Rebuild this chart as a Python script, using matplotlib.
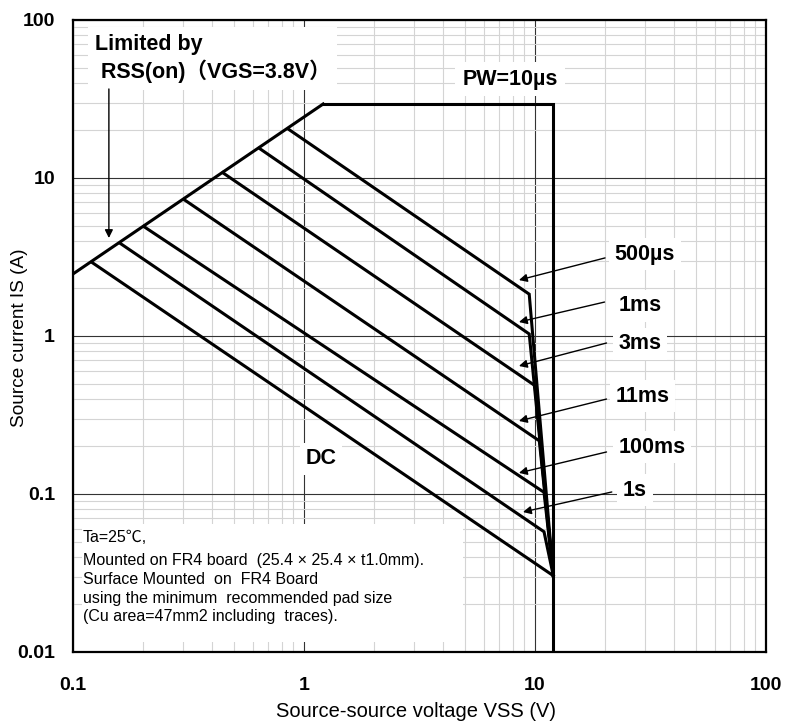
import matplotlib
matplotlib.use("Agg")
import matplotlib.pyplot as plt
from matplotlib.patches import Rectangle
from matplotlib.ticker import FixedLocator, FixedFormatter, LogLocator, NullFormatter

plt.rcParams['font.family'] = ['Liberation Sans', 'Noto Sans CJK JP', 'DejaVu Sans']

# ---- data ----
limit_v = [0.1, 1.21]          # RSS(on) limit line
limit_i = [2.47, 29.4]
pw_v = [1.21, 12.0, 12.0]       # PW=10us boundary
pw_i = [29.4, 29.4, 0.01]

pulse_labels = ['500µs', '1ms', '3ms', '11ms', '100ms', '1s', 'DC']
start_v = [0.855, 0.641, 0.445, 0.303, 0.203, 0.160, 0.1205]
start_i = [20.4, 15.4, 10.8, 7.29, 4.92, 3.86, 2.93]
bend_v = [9.44, 9.44, 10.0, 10.44, 10.94, 10.94, 12.0]
bend_i = [1.84, 1.03, 0.485, 0.217, 0.1025, 0.0577, 0.0304]
end_v = 12.0
end_i = 0.0304

x_ticks = [0.1, 1, 10, 100]
x_ticklabels = ['0.1', '1', '10', '100']
y_ticks = [0.01, 0.1, 1, 10, 100]
y_ticklabels = ['0.01', '0.1', '1', '10', '100']

# label positions (text centre, arrow tail, arrow head) in data units
lab_text_v = [29.9, 28.5, 28.5, 29.3, 32.1, 27.1]
lab_text_i = [3.30, 1.55, 0.89, 0.417, 0.198, 0.106]
tail_v = [20.1, 20.0, 20.4, 20.4, 20.4, 21.5]
tail_i = [3.12, 1.64, 0.903, 0.399, 0.1845, 0.103]
head_v = [8.52, 8.52, 8.52, 8.52, 8.52, 8.87]
head_i = [2.26, 1.226, 0.646, 0.290, 0.136, 0.0769]

fig = plt.figure(figsize=(7.86, 7.24), dpi=100)
ax = fig.add_axes([73/786, 1-652/724, 693/786, 632/724])
ax.set_xscale('log')
ax.set_yscale('log')
ax.set_xlim(0.1, 100)
ax.set_ylim(0.01, 100)
ax.set_axisbelow(True)

ax.xaxis.set_major_locator(FixedLocator(x_ticks))
ax.xaxis.set_major_formatter(FixedFormatter(x_ticklabels))
ax.yaxis.set_major_locator(FixedLocator(y_ticks))
ax.yaxis.set_major_formatter(FixedFormatter(y_ticklabels))
ax.xaxis.set_minor_locator(LogLocator(base=10, subs=range(2, 10)))
ax.yaxis.set_minor_locator(LogLocator(base=10, subs=range(2, 10)))
ax.xaxis.set_minor_formatter(NullFormatter())
ax.yaxis.set_minor_formatter(NullFormatter())
ax.grid(which='minor', color='#d4d4d4', lw=0.8)
ax.grid(which='major', color='#333333', lw=0.8)
ax.tick_params(which='both', length=0)
ax.tick_params(axis='y', pad=13, labelsize=14)
ax.tick_params(axis='x', pad=18, labelsize=14)
for lab in ax.get_xticklabels() + ax.get_yticklabels():
    lab.set_fontweight('bold')
for sp in ax.spines.values():
    sp.set_linewidth(1.6)

ax.set_xlabel('Source-source voltage VSS (V)', fontsize=14.5)
ax.set_ylabel('Source current IS (A)', fontsize=13.7)
ax.xaxis.set_label_coords(0.495, -0.0935)
ax.yaxis.set_label_coords(-0.0765, 0.497)
ax.xaxis.label.set_va('center')
ax.yaxis.label.set_va('center')

lw = 2.2
ax.plot(limit_v, limit_i, color='black', lw=lw, zorder=3, solid_joinstyle='miter')
ax.plot(pw_v, pw_i, color='black', lw=lw, zorder=3, solid_joinstyle='miter')
for sv, si, bv, bi in zip(start_v, start_i, bend_v, bend_i):
    ax.plot([sv, bv, end_v], [si, bi, end_i], color='black', lw=lw, zorder=3,
            solid_joinstyle='miter')

# white box with conditions text
ax.add_patch(Rectangle((0.013, 0.016), 0.55, 0.187, transform=ax.transAxes,
                       fc='white', ec='none', zorder=1))
cond_lines = ['Ta=25℃,',
              'Mounted on FR4 board  (25.4 × 25.4 × t1.0mm).',
              'Surface Mounted  on  FR4 Board',
              'using the minimum  recommended pad size',
              '(Cu area=47mm2 including  traces).']
cond_y = [537, 561, 580, 599, 616]
for t, py in zip(cond_lines, cond_y):
    ax.text(10/693, (652-py)/632, t, transform=ax.transAxes, fontsize=11.5,
            ha='left', va='center', zorder=4)

bold = dict(fontsize=15.5, fontweight='bold', zorder=4)
ax.text(0.1245, 57.0, 'Limited by\n RSS(on)（VGS=3.8V）', ha='left', va='center',
        linespacing=1.25, bbox=dict(fc='white', ec='none', pad=5), **bold)
ax.annotate('', xy=(0.143, 4.17), xytext=(0.143, 36.6),
            arrowprops=dict(arrowstyle='-|>', color='black', lw=1,
                            mutation_scale=12, shrinkA=0, shrinkB=0), zorder=4)
ax.text(7.8, 42.3, 'PW=10µs', ha='center', va='center',
        bbox=dict(fc='white', ec='none', pad=5), **bold)
ax.text(1.185, 0.1666, 'DC', ha='center', va='center',
        bbox=dict(fc='white', ec='none', pad=4), **bold)

for i in range(6):
    ax.text(lab_text_v[i], lab_text_i[i], pulse_labels[i], ha='center', va='center',
            bbox=dict(fc='white', ec='none', pad=4), **bold)
    ax.annotate('', xy=(head_v[i], head_i[i]), xytext=(tail_v[i], tail_i[i]),
                arrowprops=dict(arrowstyle='-|>', color='black', lw=1,
                                mutation_scale=12, shrinkA=0, shrinkB=0), zorder=4)

fig.savefig('out.png', dpi=100)
